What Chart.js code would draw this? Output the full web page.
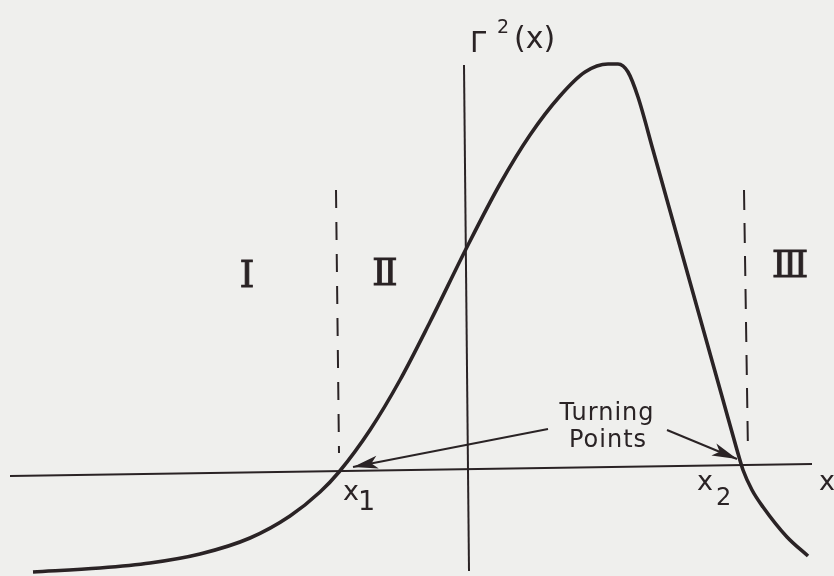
<!DOCTYPE html>
<html>
<head>
<meta charset="utf-8">
<title>Γ²(x) turning points</title>
<script src="https://cdn.jsdelivr.net/npm/chart.js@4.4.0/dist/chart.umd.min.js"></script>
<style>
  html, body { margin: 0; padding: 0; background: #efefed; }
  #plot { display: block; }
</style>
</head>
<body>
<canvas id="plot" width="834" height="576"></canvas>
<script>
// Γ²(x) sampled along x (arbitrary units, origin where the axes cross)
const curveX = [-4.34, -3.67, -3.17, -2.67, -2.17, -1.77, -1.47, -1.28, -0.97, -0.67, -0.37,
  0.00, 0.33, 0.63, 0.93, 1.18, 1.41, 1.51, 1.61, 1.71, 1.86, 2.00, 2.14, 2.28, 2.42, 2.56,
  2.70, 2.76, 2.85, 2.96, 3.20, 3.41];
const curveY = [-1.02, -0.98, -0.93, -0.84, -0.68, -0.46, -0.22, -0.02, 0.40, 0.90, 1.48,
  2.23, 2.86, 3.35, 3.74, 3.98, 4.06, 4.06, 3.98, 3.73, 3.20, 2.70, 2.20, 1.70, 1.20, 0.70,
  0.20, 0.00, -0.20, -0.37, -0.67, -0.86];

// axes (the x axis is drawn slightly tilted)
const xAxisX = [-4.57, 3.45];
const xAxisY = [-0.06, 0.06];
const yAxisX = [-0.03, 0.02];
const yAxisY = [4.05, -1.01];

// dashed region boundaries near the turning points
const leftBoundX = [-1.31, -1.28];
const rightBoundX = [2.77, 2.81];
const boundY = [2.80, 0.17];

// "Turning Points" arrows: tail -> tip
const arrowTailX = [0.81, 2.00];
const arrowTailY = [0.41, 0.40];
const arrowTipX = [-1.14, 2.70];
const arrowTipY = [0.03, 0.11];

const ink = '#2a2325';

const labels = [
  { text: 'Γ', x: 0.03, y: 4.18, font: '29px "DejaVu Sans"', align: 'left' },
  { text: '2', x: 0.30, y: 4.37, font: '19px "DejaVu Sans"', align: 'left' },
  { text: '(x)', x: 0.47, y: 4.22, font: '30px "DejaVu Sans"', align: 'left' },
  { text: 'Ⅰ', x: -2.20, y: 1.83, font: '38px "DejaVu Serif"', align: 'center', stroke: 0.8 },
  { text: 'Ⅱ', x: -0.82, y: 1.85, font: '38px "DejaVu Serif"', align: 'center', stroke: 0.8 },
  { text: 'Ⅲ', x: 3.23, y: 1.93, font: '38px "DejaVu Serif"', align: 'center', stroke: 0.8 },
  { text: 'Turning', x: 1.40, y: 0.50, font: '24px "DejaVu Sans"', align: 'center', spacing: '1px' },
  { text: 'Points', x: 1.41, y: 0.23, font: '24px "DejaVu Sans"', align: 'center', spacing: '1px' },
  { text: 'x', x: -1.24, y: -0.30, font: '27px "DejaVu Sans"', align: 'left' },
  { text: '1', x: -1.09, y: -0.40, font: '27px "DejaVu Sans"', align: 'left' },
  { text: 'x', x: 2.30, y: -0.20, font: '27px "DejaVu Sans"', align: 'left' },
  { text: '2', x: 2.49, y: -0.35, font: '24px "DejaVu Sans"', align: 'left' },
  { text: 'x', x: 3.52, y: -0.20, font: '27px "DejaVu Sans"', align: 'left' }
];

const pts = (xs, ys) => xs.map((x, i) => ({ x: x, y: ys[i] }));

const lineSet = (data, width, dash) => ({
  data: data,
  showLine: true,
  borderColor: ink,
  borderWidth: width,
  borderDash: dash || [],
  pointRadius: 0,
  fill: false
});

// arrowheads and lettering
const annotate = {
  id: 'annotate',
  afterDatasetsDraw(chart) {
    const ctx = chart.ctx;
    const sx = chart.scales.x, sy = chart.scales.y;
    ctx.save();
    ctx.fillStyle = ink;
    ctx.strokeStyle = ink;
    for (let i = 0; i < arrowTipX.length; i++) {
      const tx = sx.getPixelForValue(arrowTipX[i]), ty = sy.getPixelForValue(arrowTipY[i]);
      const bx = sx.getPixelForValue(arrowTailX[i]), by = sy.getPixelForValue(arrowTailY[i]);
      const a = Math.atan2(ty - by, tx - bx);
      const len = 25, half = 6.5;
      const c = Math.cos(a), s = Math.sin(a);
      ctx.beginPath();
      ctx.moveTo(tx, ty);
      ctx.lineTo(tx - len * c + half * s, ty - len * s - half * c);
      ctx.lineTo(tx - len * 0.75 * c, ty - len * 0.75 * s);
      ctx.lineTo(tx - len * c - half * s, ty - len * s + half * c);
      ctx.closePath();
      ctx.fill();
    }
    ctx.textBaseline = 'alphabetic';
    labels.forEach(l => {
      ctx.font = l.font;
      ctx.textAlign = l.align;
      ctx.letterSpacing = l.spacing || '0px';
      const px = sx.getPixelForValue(l.x), py = sy.getPixelForValue(l.y);
      ctx.fillText(l.text, px, py);
      if (l.stroke) {
        ctx.lineWidth = l.stroke;
        ctx.strokeText(l.text, px, py);
      }
    });
    ctx.restore();
  }
};

new Chart(document.getElementById('plot'), {
  type: 'scatter',
  data: {
    datasets: [
      lineSet(pts(xAxisX, xAxisY), 2.2),
      lineSet(pts(yAxisX, yAxisY), 2),
      lineSet(pts(leftBoundX, boundY), 2, [18, 14]),
      lineSet(pts(rightBoundX, boundY), 2, [20, 13]),
      lineSet([{ x: arrowTailX[0], y: arrowTailY[0] }, { x: arrowTipX[0], y: arrowTipY[0] }], 2),
      lineSet([{ x: arrowTailX[1], y: arrowTailY[1] }, { x: arrowTipX[1], y: arrowTipY[1] }], 2),
      Object.assign(lineSet(pts(curveX, curveY), 3.6), { cubicInterpolationMode: 'monotone' })
    ]
  },
  options: {
    responsive: false,
    animation: false,
    layout: { padding: 0 },
    plugins: { legend: { display: false }, tooltip: { enabled: false } },
    scales: {
      x: { type: 'linear', min: -4.67, max: 3.67, display: false },
      y: { type: 'linear', min: -1.06, max: 4.70, display: false }
    }
  },
  plugins: [annotate]
});
</script>
</body>
</html>
